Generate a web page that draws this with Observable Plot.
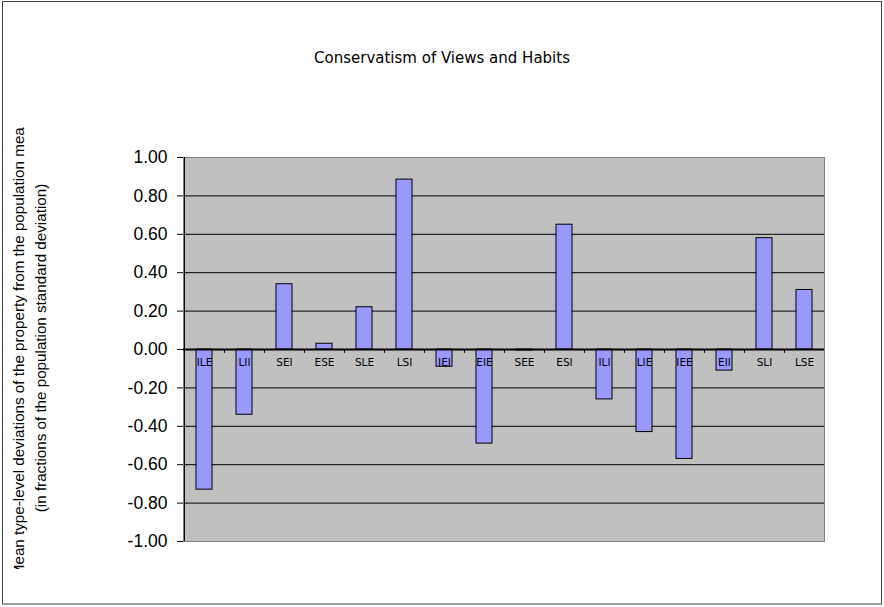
<!DOCTYPE html>
<html>
<head>
<meta charset="utf-8">
<script src="https://cdn.jsdelivr.net/npm/d3@7"></script>
<script src="https://cdn.jsdelivr.net/npm/@observablehq/plot@0.6"></script>
<style>
  html, body { margin: 0; padding: 0; background: #fff; }
  #chart svg { display: block; }
</style>
</head>
<body>
<div id="chart"></div>
<script>
const title = "Conservatism of Views and Habits";
const yLabelLines = [
  "Mean type-level deviations of the property from the population mean",
  "(in fractions of the population standard deviation)"
];
const categories = ["ILE","LII","SEI","ESE","SLE","LSI","IEI","EIE","SEE","ESI","ILI","LIE","IEE","EII","SLI","LSE"];
const values = [-0.73,-0.34,0.34,0.03,0.22,0.885,-0.09,-0.49,-0.005,0.65,-0.26,-0.43,-0.57,-0.11,0.58,0.31];
const yTicks = [-1.0,-0.8,-0.6,-0.4,-0.2,0,0.2,0.4,0.6,0.8,1.0];

const data = categories.map((c, i) => ({cat: c, value: values[i]}));

const W = 884, H = 607;
const mL = 183, mR = 60, mT = 157, mB = 66;
const step = (W - mL - mR) / categories.length;

const plot = Plot.plot({
  width: W, height: H,
  marginLeft: mL, marginRight: mR, marginTop: mT, marginBottom: mB,
  style: {background: "transparent", overflow: "visible"},
  x: {type: "band", domain: categories, paddingInner: 0, paddingOuter: 0, axis: null},
  y: {domain: [-1, 1], axis: null},
  marks: [
    Plot.frame({fill: "#C0C0C0", stroke: "none"}),
    Plot.gridY(yTicks.slice(1, -1), {stroke: "#000", strokeOpacity: 1, strokeWidth: 1}),
    Plot.frame({stroke: "#808080", strokeWidth: 1}),
    Plot.barY(data, {x: "cat", y: "value", fill: "#9999FF", stroke: "#000", strokeWidth: 1, insetLeft: 12, insetRight: 12}),
    Plot.ruleY([0], {stroke: "#000", strokeWidth: 2}),
    Plot.ruleX(categories.slice(1), {x: d => d, y1: 0, y2: -0.02, dx: -step / 2, stroke: "#000"}),
    Plot.ruleX([categories[0]], {y1: -1, y2: 1, dx: -step / 2, stroke: "#000", strokeWidth: 1}),
    Plot.axisY(yTicks, {
      tickSize: 6, tickPadding: 10, tickFormat: d => d.toFixed(2),
      fontSize: 17.5, fontFamily: "Liberation Sans, Arial, sans-serif", fill: "#000", stroke: "#000", label: null
    }),
    Plot.text(data, {x: "cat", y: 0, text: "cat", dy: 13, fontSize: 10.5, fontFamily: "DejaVu Sans", fill: "#000"}),
    Plot.text([title], {frameAnchor: "top", dx: -62, dy: -99, lineAnchor: "middle", fontSize: 15, fontFamily: "DejaVu Sans", fill: "#000"})
  ]
});

document.getElementById("chart").appendChild(plot);

const svg = d3.select(plot);
// clip path for the rotated axis title
const defs = svg.insert("defs", ":first-child");
defs.append("clipPath").attr("id", "ylabclip")
  .append("rect").attr("x", 0).attr("y", 127).attr("width", 60).attr("height", 442);
const gl = svg.append("g").attr("clip-path", "url(#ylabclip)")
  .attr("font-family", "Liberation Sans, Arial, sans-serif").attr("font-size", 15.2).attr("fill", "#000");
yLabelLines.forEach((t, i) => {
  gl.append("text")
    .attr("transform", `translate(${24 + i * 22},${348}) rotate(-90)`)
    .attr("text-anchor", "middle")
    .text(t);
});
// outer chart border
svg.append("rect").attr("x", 2.5).attr("y", 1.5).attr("width", 879).attr("height", 602.5)
  .attr("fill", "none").attr("stroke", "#404040").attr("stroke-width", 1);
</script>
</body>
</html>
